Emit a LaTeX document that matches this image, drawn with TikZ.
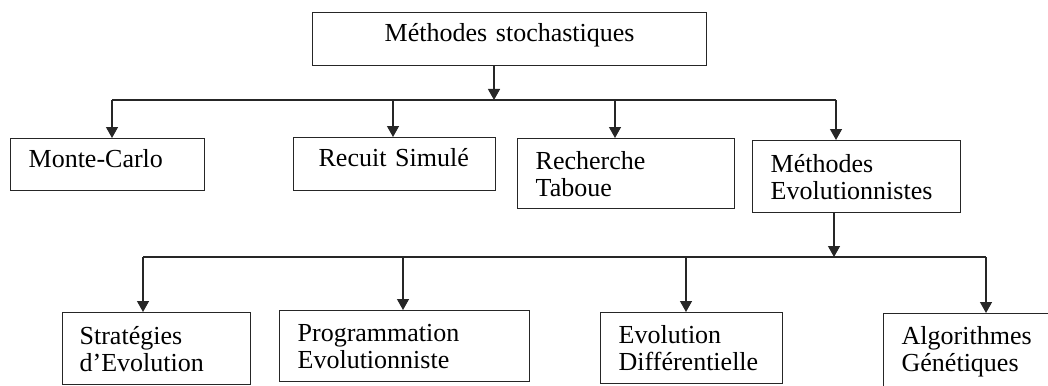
\documentclass[tikz,border=0pt]{standalone}
\usepackage{fontspec}
\setmainfont{Liberation Serif}
\usepackage{tikz}
\usetikzlibrary{arrows.meta}

\tikzset{
  box/.style={draw=black!85, line width=1.3pt, anchor=north west, align=left,
    inner xsep=18pt, inner ysep=0pt, font=\fontsize{26}{27}\selectfont},
  onebox/.style={box, text depth=13pt},
  link/.style={draw=black!85, line width=1.3pt},
  arr/.style={link, -{Triangle[width=12pt,length=11pt]}}
}

\begin{document}
\begin{tikzpicture}[x=1pt,y=-1pt]
\useasboundingbox (0,0) rectangle (1048,385);
\clip (0,0) rectangle (1048,385);
\node[onebox, align=center, text width=358pt, minimum height=53pt] (top) at (312,12) {M\'ethodes stochastiques};
\node[onebox, text width=158pt, minimum height=52pt] (mc) at (10,138) {Monte-Carlo};
\node[onebox, inner xsep=25pt, text width=152pt, minimum height=53pt] (rs) at (293,137) {Recuit Simul\'e};
\node[box, text width=181pt, minimum height=70pt] (rt) at (517,138) {Recherche\\Taboue};
\node[box, text width=172pt, minimum height=72pt] (me) at (752,140) {M\'ethodes\\Evolutionnistes};
\node[box, inner xsep=17pt, text width=154pt, minimum height=72pt] (se) at (62,312) {Strat\'egies\\d'Evolution};
\node[box, text width=214pt, minimum height=71pt] (pe) at (279,310) {Programmation\\Evolutionniste};
\node[box, text width=146pt, minimum height=71pt] (ed) at (600,312) {Evolution\\Diff\'erentielle};
\node[box, text width=176pt, minimum height=76pt] (ag) at (883,313) {Algorithmes\\G\'en\'etiques};

\coordinate (j1) at (494,100);
\coordinate (j2) at (834,257);
\draw[arr] (j1 |- top.south) -- (j1);
\draw[link] (112,100) -- (836,100);
\foreach \x/\n in {112/mc,393/rs,615/rt,836/me}
  \draw[arr] (\x,100) -- (\x,100 |- \n.north);
\draw[arr] (j2 |- me.south) -- (j2);
\draw[link] (143,257) -- (986,257);
\foreach \x/\n in {143/se,403/pe,686/ed,986/ag}
  \draw[arr] (\x,257) -- (\x,257 |- \n.north);
\end{tikzpicture}
\end{document}
